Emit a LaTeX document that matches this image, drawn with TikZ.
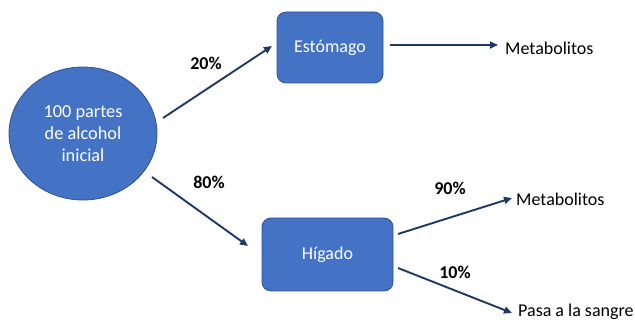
\documentclass[tikz,border=0pt]{standalone}
\usepackage{fontspec}
\setmainfont{Carlito}
\usetikzlibrary{shapes.geometric,arrows.meta}
\definecolor{boxblue}{HTML}{4472C4}
\definecolor{boxedge}{HTML}{2F528F}
\definecolor{arrnavy}{HTML}{1F3864}
\tikzset{
  every node/.style={font=\fontsize{18}{21.5}\selectfont},
  blob/.style={ellipse, fill=boxblue, draw=boxedge, line width=0.8pt, minimum width=148pt, minimum height=133pt, text=white, align=center, inner sep=0pt, font=\fontsize{18.3}{21.8}\selectfont},
  organ/.style={rectangle, rounded corners=9pt, fill=boxblue, draw=boxedge, line width=0.8pt, text=white, inner sep=0pt},
  flow/.style={draw=arrnavy, line width=1.9pt, -{Triangle[length=8pt,width=7pt]}},
  pct/.style={font=\fontsize{18}{21}\selectfont\bfseries, inner sep=0pt},
  outlbl/.style={anchor=west, inner sep=0pt}
}
\begin{document}
\begin{tikzpicture}[x=1pt,y=-1pt]
\useasboundingbox (0,0) rectangle (635,320);
\node[blob] (src) at (83,133.5) {100 partes\\de alcohol\\inicial};
\node[organ, minimum width=106pt, minimum height=71pt] (est) at (330,47.5) {Estómago};
\node[organ, minimum width=131pt, minimum height=73pt] (hig) at (327.5,254.5) {Hígado};
\coordinate (s1) at (163,118);
\coordinate (e1) at (272,46);
\coordinate (s2) at (152,177);
\coordinate (e2) at (248,246);
\coordinate (s3) at (390,45);
\coordinate (e3) at (498,45);
\coordinate (s4) at (398,234);
\coordinate (e4) at (512,198);
\coordinate (s5) at (398,268);
\coordinate (e5) at (512,313);
\node[outlbl] (m1) at (505,48) {Metabolitos};
\node[outlbl] (m2) at (516,199) {Metabolitos};
\node[outlbl] (ps) at (518,312) {Pasa a la sangre};
\draw[flow] (s1) -- (e1);
\draw[flow] (s2) -- (e2);
\draw[flow] (s3) -- (e3);
\draw[flow] (s4) -- (e4);
\draw[flow] (s5) -- (e5);
\node[pct] (p20) at (206,63) {20\%};
\node[pct] (p80) at (209,182) {80\%};
\node[pct] (p90) at (450,188) {90\%};
\node[pct] (p10) at (455,272) {10\%};
\end{tikzpicture}
\end{document}
